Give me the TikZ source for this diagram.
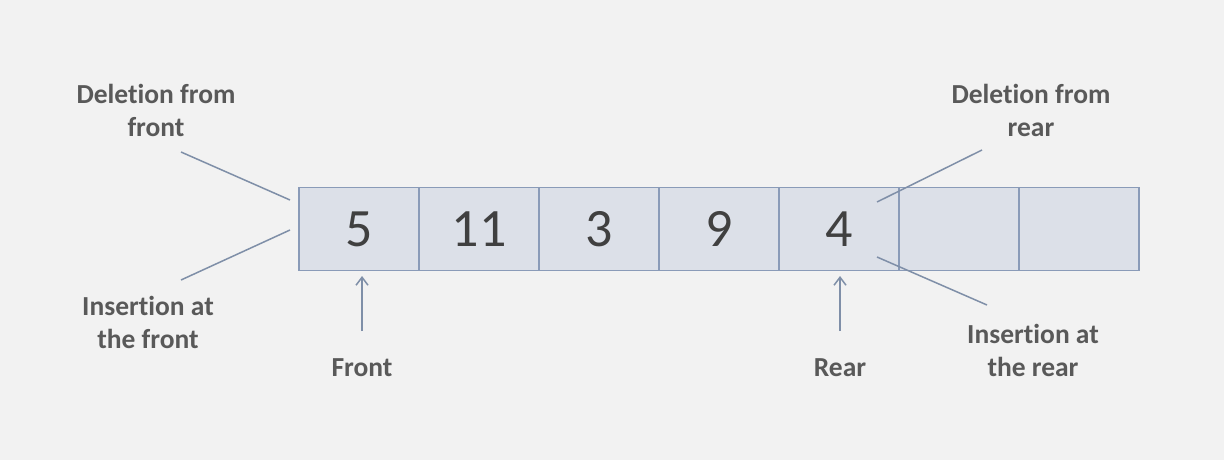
\documentclass[tikz,border=0pt]{standalone}
\usepackage{fontspec}
\setmainfont{Carlito}[Ligatures=NoCommon]
\usetikzlibrary{arrows.meta}
\definecolor{bg}{HTML}{F2F2F2}
\definecolor{cellfill}{HTML}{DCE0E8}
\definecolor{cellline}{HTML}{8A9BB8}
\definecolor{lbl}{HTML}{595959}
\definecolor{num}{HTML}{404040}
\definecolor{conn}{HTML}{7F8FA8}
\tikzset{
  cell/.style={draw=cellline, fill=cellfill, line width=1.6pt, outer sep=0pt, minimum width=120pt, minimum height=83pt, inner sep=0pt, anchor=west, font=\fontsize{54}{60}\selectfont, text=num},
  lab/.style={font=\bfseries\fontsize{27.5}{33}\selectfont, text=lbl, align=center, inner sep=0pt},
  conline/.style={draw=conn, line width=1.5pt},
  uparrow/.style={conline, -{Straight Barb[length=8pt,width=12pt]}}
}
\begin{document}
\begin{tikzpicture}[x=1pt,y=-1pt]
\fill[bg] (0,0) rectangle (1224,460);
\useasboundingbox (0,0) rectangle (1224,460);
\node[cell] (c1) at (299,229) {5};
\node[cell] (c2) at (c1.east) {11};
\node[cell] (c3) at (c2.east) {3};
\node[cell] (c4) at (c3.east) {9};
\node[cell] (c5) at (c4.east) {4};
\node[cell] (c6) at (c5.east) {};
\node[cell] (c7) at (c6.east) {};
\node[lab] (df) at (156,110) {Deletion from\\front};
\node[lab] (if) at (148,322) {Insertion at\\the front};
\node[lab] (dr) at (1031,110) {Deletion from\\rear};
\node[lab] (ir) at (1033,350) {Insertion at\\the rear};
\node[lab] (fr) at (362,368) {Front};
\node[lab] (rr) at (840,368) {Rear};
\coordinate (dfa) at (181,152);
\coordinate (dfb) at (290,200);
\coordinate (ifa) at (181,280);
\coordinate (ifb) at (290,230);
\coordinate (dra) at (982,150);
\coordinate (drb) at (877,202);
\coordinate (ira) at (987,305);
\coordinate (irb) at (877,257);
\coordinate (fra) at (362,331);
\coordinate (frb) at (362,276);
\coordinate (rra) at (840,331);
\coordinate (rrb) at (840,276);
\draw[conline] (dfa) -- (dfb);
\draw[conline] (ifa) -- (ifb);
\draw[conline] (dra) -- (drb);
\draw[conline] (ira) -- (irb);
\draw[uparrow] (fra) -- (frb);
\draw[uparrow] (rra) -- (rrb);
\end{tikzpicture}
\end{document}
